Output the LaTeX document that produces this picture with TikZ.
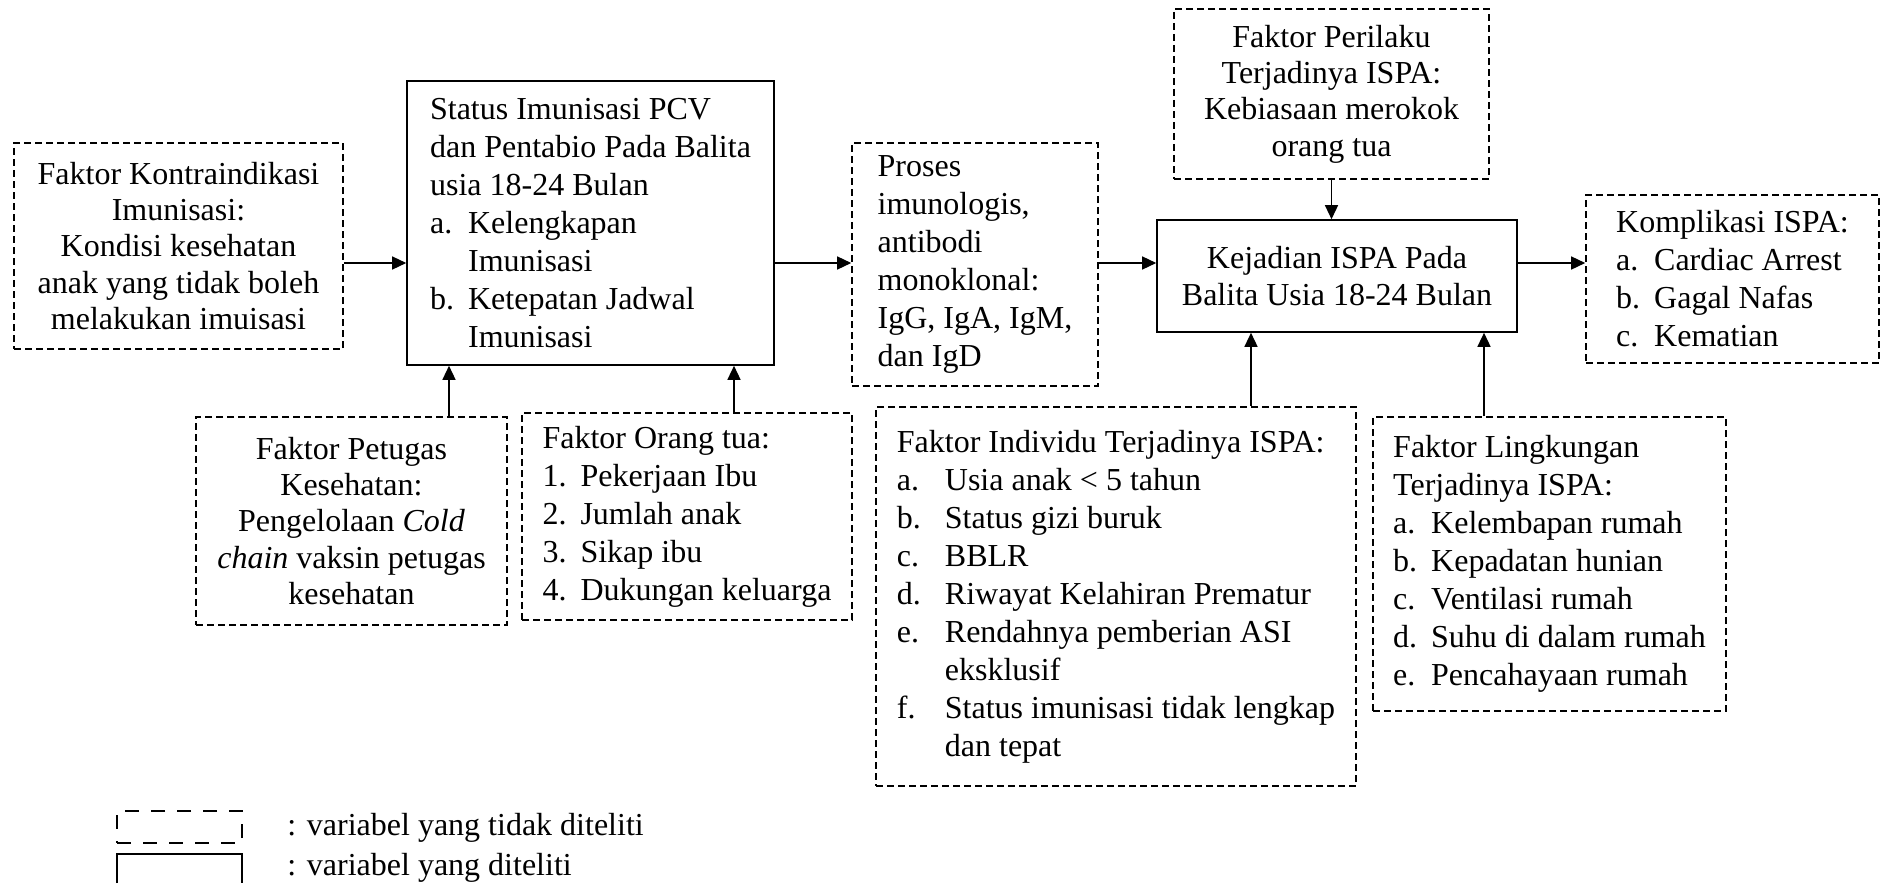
\documentclass[tikz,border=0pt]{standalone}
\usepackage{fontspec}
\setmainfont{Liberation Serif}
\usepackage{tikz}
\usetikzlibrary{positioning}
\usetikzlibrary{arrows.meta}

\newcommand{\butir}[2][19pt]{\makebox[#1][l]{#2}}
\newcommand{\sambung}[1][19pt]{\hspace*{#1}}

\begin{document}
\begin{tikzpicture}
    [%%%%%%%%%%%%%%%%%%%%%%%%%%%%%%
        x=0.5pt, y=-0.5pt,
        diteliti/.style={rectangle, draw=black, line width=0.8pt, inner sep=0pt},
        tdkditeliti/.style={diteliti, dash pattern=on 3.5pt off 2pt},
        tengah/.style={align=center, font=\fontsize{16pt}{18.2pt}\selectfont},
        kiri/.style={align=left, font=\fontsize{16pt}{19pt}\selectfont},
        panah/.style={-{Triangle[length=7pt,width=6.5pt]}, line width=0.7pt},
        legenda/.style={line width=1pt}
    ]%%%%%%%%%%%%%%%%%%%%%%%%%%%%%%

\useasboundingbox (0,0) rectangle (1883,883);

% kotak variabel
\node[tdkditeliti, tengah, minimum width=164.5pt, minimum height=103pt] (kontra) at (178.5,246)
    {Faktor Kontraindikasi\\Imunisasi:\\Kondisi kesehatan\\anak yang tidak boleh\\melakukan imuisasi};
\node[diteliti, kiri, minimum width=183.5pt, minimum height=142pt] (status) at (590.5,223)
    {Status Imunisasi PCV\\dan Pentabio Pada Balita\\usia 18-24 Bulan\\
     \butir{a.}Kelengkapan\\\sambung Imunisasi\\\butir{b.}Ketepatan Jadwal\\\sambung Imunisasi};
\node[tdkditeliti, tengah, minimum width=155.5pt, minimum height=104pt] (petugas) at (351.5,521)
    {Faktor Petugas\\Kesehatan:\\Pengelolaan \textit{Cold}\\\textit{chain} vaksin petugas\\kesehatan};
\node[tdkditeliti, kiri, minimum width=165pt, minimum height=103.5pt] (orang) at (687,516.5)
    {Faktor Orang tua:\\\butir{1.}Pekerjaan Ibu\\\butir{2.}Jumlah anak\\\butir{3.}Sikap ibu\\\butir{4.}Dukungan keluarga};
\node[tdkditeliti, kiri, minimum width=123pt, minimum height=121.5pt] (proses) at (975,264.5)
    {Proses\\imunologis,\\antibodi\\monoklonal:\\IgG, IgA, IgM,\\dan IgD};
\node[tdkditeliti, tengah, minimum width=157.5pt, minimum height=85pt] (perilaku) at (1331.5,94)
    {Faktor Perilaku\\Terjadinya ISPA:\\Kebiasaan merokok\\orang tua};
\node[diteliti, tengah, minimum width=180pt, minimum height=56pt] (kejadian) at (1337,276)
    {Kejadian ISPA Pada\\Balita Usia 18-24 Bulan};
\node[tdkditeliti, kiri, minimum width=146.5pt, minimum height=84pt] (komplikasi) at (1732.5,279)
    {Komplikasi ISPA:\\\butir{a.}Cardiac Arrest\\\butir{b.}Gagal Nafas\\\butir{c.}Kematian};
\node[tdkditeliti, kiri, minimum width=240pt, minimum height=189.5pt] (individu) at (1116,596.5)
    {Faktor Individu Terjadinya ISPA:\\\butir[24pt]{a.}Usia anak < 5 tahun\\\butir[24pt]{b.}Status gizi buruk\\
     \butir[24pt]{c.}BBLR\\\butir[24pt]{d.}Riwayat Kelahiran Prematur\\\butir[24pt]{e.}Rendahnya pemberian ASI\\
     \sambung[24pt]eksklusif\\\butir[24pt]{f.}Status imunisasi tidak lengkap\\\sambung[24pt]dan tepat};
\node[tdkditeliti, kiri, minimum width=176.5pt, minimum height=147pt] (lingkungan) at (1549.5,564)
    {Faktor Lingkungan\\Terjadinya ISPA:\\\butir{a.}Kelembapan rumah\\\butir{b.}Kepadatan hunian\\
     \butir{c.}Ventilasi rumah\\\butir{d.}Suhu di dalam rumah\\\butir{e.}Pencahayaan rumah};

% panah
\coordinate (jalur) at (0,263);
\draw[panah] (kontra.east |- jalur) -- (status.west |- jalur);
\draw[panah] (status.east |- jalur) -- (proses.west |- jalur);
\draw[panah] (proses.east |- jalur) -- (kejadian.west |- jalur);
\draw[panah] (kejadian.east |- jalur) -- (komplikasi.west |- jalur);
\draw[panah] (perilaku.south) -- (perilaku.south |- kejadian.north);
\foreach \x/\dari/\ke in {449/petugas/status, 734/orang/status, 1251/individu/kejadian, 1484/lingkungan/kejadian}{
    \coordinate (tiang) at (\x,0);
    \draw[panah] (tiang |- \dari.north) -- (tiang |- \ke.south);
}

% keterangan
\node[legenda, draw, dash pattern=on 7pt off 6pt, minimum width=62.5pt, minimum height=16pt, inner sep=0pt] (kotak1) at (179.5,827) {};
\draw[legenda] (117,883) |- (242,854) -- (242,883);
\node[anchor=west, inner sep=0pt, font=\fontsize{16pt}{19pt}\selectfont] (ket1) at (287,828) {: variabel yang tidak diteliti};
\node[anchor=west, inner sep=0pt, font=\fontsize{16pt}{19pt}\selectfont] (ket2) at (287,868) {: variabel yang diteliti};

\end{tikzpicture}
\end{document}
